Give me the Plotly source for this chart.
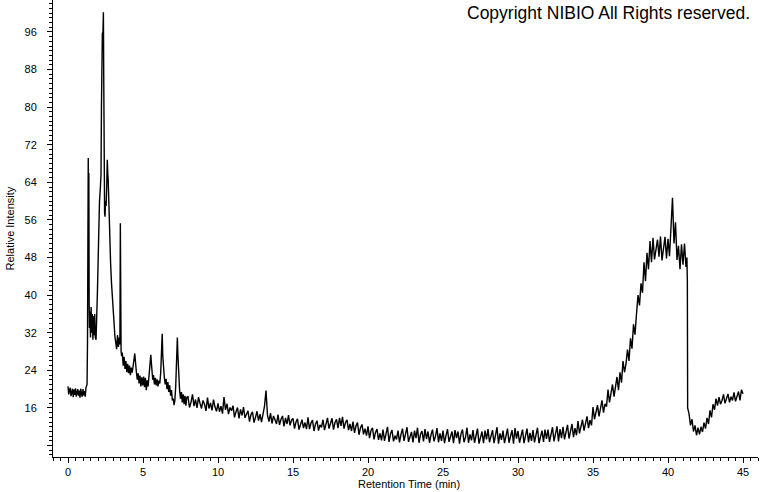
import numpy as np
import plotly.graph_objects as go

# ---------------- data ----------------
# 0 - 1.27 min : initial baseline
rt_start = [0.00, 0.05, 0.10, 0.15, 0.20, 0.25, 0.30, 0.35, 0.40, 0.45, 0.50, 0.55, 0.60,
            0.65, 0.70, 0.75, 0.80, 0.85, 0.90, 0.95, 1.00, 1.05, 1.10, 1.15, 1.20, 1.27]
int_start = [20.6, 18.9, 19.8, 20.3, 18.5, 19.4, 20.1, 18.3, 19.9, 18.8, 20.2, 18.4, 19.5,
             20.0, 18.6, 19.7, 18.2, 20.1, 19.0, 18.4, 20.0, 18.7, 19.6, 18.4, 20.4, 21.0]

# 1.30 - 3.58 min : main peak cluster
rt_peaks = [1.30, 1.33, 1.35, 1.37, 1.39, 1.41, 1.43, 1.46, 1.50, 1.54,
            1.58, 1.62, 1.66, 1.70, 1.74, 1.78, 1.82, 1.87, 1.96, 2.04,
            2.10, 2.16, 2.20, 2.23, 2.26, 2.29, 2.33, 2.36, 2.38, 2.40,
            2.42, 2.44, 2.47, 2.50, 2.54, 2.58, 2.62, 2.65, 2.68, 2.71,
            2.76, 2.80, 2.84, 2.90, 2.96, 3.02, 3.08, 3.13, 3.18, 3.24,
            3.30, 3.36, 3.42, 3.46, 3.49, 3.51, 3.54, 3.58]
int_peaks = [30.0, 45.0, 69.2, 50.0, 66.0, 38.0, 33.0, 36.5, 31.0, 37.5,
             32.0, 36.0, 30.5, 35.5, 31.5, 36.0, 31.0, 30.5, 40.5, 53.0,
             60.0, 63.0, 65.5, 80.0, 93.0, 95.7, 96.0, 100.2, 87.7, 71.5,
             64.0, 57.5, 56.7, 60.0, 59.0, 63.0, 68.8, 66.0, 64.5, 60.0,
             56.7, 51.7, 46.8, 42.6, 39.0, 36.2, 33.5, 31.1, 30.0, 28.5,
             31.5, 29.0, 31.0, 29.5, 55.3, 30.0, 28.0, 27.0]

# 3.62 - 7.92 min : tail with small peaks
rt_tail = [3.62, 3.68, 3.74, 3.80, 3.86, 3.92, 3.98, 4.04, 4.10, 4.16,
           4.22, 4.28, 4.34, 4.40, 4.45, 4.50, 4.56, 4.62, 4.68, 4.74,
           4.80, 4.86, 4.92, 4.98, 5.04, 5.10, 5.16, 5.22, 5.28, 5.34,
           5.40, 5.46, 5.52, 5.56, 5.60, 5.65, 5.70, 5.76, 5.82, 5.88,
           5.94, 6.00, 6.06, 6.12, 6.18, 6.23, 6.28, 6.32, 6.36, 6.42,
           6.48, 6.54, 6.60, 6.66, 6.72, 6.78, 6.84, 6.90, 6.96, 7.02,
           7.07, 7.12, 7.18, 7.24, 7.29, 7.33, 7.38, 7.44, 7.50, 7.56,
           7.62, 7.68, 7.74, 7.80, 7.86, 7.92]
int_tail = [27.8, 25.0, 26.9, 24.3, 26.0, 23.6, 25.4, 23.4, 25.0, 23.0,
            24.6, 23.5, 25.6, 26.3, 27.6, 24.8, 23.6, 22.0, 23.4, 21.2,
            22.9, 20.6, 22.5, 20.8, 22.7, 20.4, 22.4, 19.8, 21.9, 20.6,
            22.4, 24.0, 27.3, 25.5, 23.6, 22.0, 23.0, 21.0, 22.4, 20.8,
            22.1, 20.6, 21.8, 21.2, 23.5, 28.0, 31.8, 27.0, 24.0, 22.6,
            21.0, 22.2, 20.0, 21.5, 19.4, 20.8, 18.6, 19.8, 17.6, 18.0,
            16.6, 17.5, 20.5, 26.0, 31.0, 27.0, 21.0, 19.8, 18.0, 19.4,
            17.2, 18.9, 16.8, 18.6, 16.5, 18.3]

# 8.0 - 33.9 min, sampled every 0.1 min : long baseline
baseline_start, baseline_step = 8.0, 0.1
int_baseline = [
    18.4, 16.1, 17.2, 18.9, 16.4, 17.8, 16.0, 18.3, 17.0, 15.9,   # 8
    17.6, 16.8, 15.4, 18.2, 15.9, 17.1, 15.5, 17.8, 16.2, 15.3,   # 9
    17.0, 15.2, 16.4, 14.8, 18.3, 15.6, 16.9, 14.7, 16.1, 15.4,   # 10
    16.5, 14.0, 15.2, 16.1, 13.8, 15.7, 14.4, 16.2, 13.9, 14.8,   # 11
    15.4, 13.1, 14.6, 15.2, 12.9, 14.0, 15.3, 13.3, 14.7, 13.0,   # 12
    14.8, 16.4, 19.7, 14.4, 13.1, 14.9, 12.7, 14.3, 13.5, 12.6,   # 13
    14.6, 12.4, 13.6, 14.3, 12.1, 13.9, 12.6, 14.5, 12.3, 13.4,   # 14
    13.8, 11.6, 13.0, 13.7, 11.4, 12.8, 13.5, 11.7, 12.9, 11.5,   # 15
    14.0, 11.5, 12.8, 13.4, 11.1, 12.6, 13.3, 11.2, 12.4, 11.9,   # 16
    13.5, 11.3, 12.7, 13.9, 11.6, 12.5, 13.8, 11.4, 12.9, 13.6,   # 17
    11.7, 13.9, 12.2, 14.1, 11.6, 12.9, 13.5, 11.3, 12.6, 11.1,   # 18
    13.1, 10.7, 12.2, 12.9, 10.3, 11.8, 12.5, 10.4, 11.6, 10.1,   # 19
    12.1, 9.6, 11.2, 11.8, 9.3, 10.8, 11.5, 9.2, 10.6, 9.1,       # 20
    11.4, 9.0, 10.2, 12.0, 8.8, 10.5, 11.3, 8.9, 10.1, 9.3,       # 21
    11.2, 8.7, 10.4, 11.6, 9.0, 10.2, 11.9, 8.8, 9.8, 10.9,       # 22
    8.7, 11.2, 9.6, 11.8, 8.6, 10.4, 11.1, 8.9, 11.5, 9.4,        # 23
    11.0, 8.6, 10.3, 11.4, 8.9, 10.0, 11.7, 8.7, 10.6, 9.0,       # 24
    11.2, 8.5, 10.1, 11.5, 8.8, 9.9, 11.0, 8.5, 11.3, 9.6,        # 25
    11.0, 8.4, 10.5, 11.4, 8.7, 9.8, 11.8, 8.6, 10.4, 9.1,        # 26
    11.3, 8.6, 10.2, 11.6, 8.4, 9.7, 11.0, 8.5, 11.2, 9.3,        # 27
    11.5, 8.7, 10.0, 11.3, 8.5, 10.3, 11.9, 8.4, 10.6, 9.2,       # 28
    11.2, 8.5, 10.4, 11.6, 8.6, 9.9, 11.3, 8.4, 11.7, 9.5,        # 29
    11.1, 8.6, 10.2, 11.4, 8.5, 10.1, 11.6, 8.7, 10.7, 9.0,       # 30
    11.3, 8.7, 10.3, 11.8, 8.5, 9.9, 11.2, 8.8, 11.4, 9.4,        # 31
    11.4, 8.8, 10.6, 11.9, 8.9, 10.2, 12.1, 8.9, 11.5, 9.6,       # 32
    12.0, 9.3, 11.0, 12.4, 9.5, 10.9, 12.6, 9.8, 11.7, 10.2,      # 33
]

# 34.0 - 41.2 min, sampled every 0.1 min : gradient hump
gradient_start, gradient_step = 34.0, 0.1
int_gradient = [
    13.2, 10.6, 12.4, 13.5, 11.2, 12.6, 14.2, 11.7, 13.4, 12.3,   # 34
    16.2, 13.6, 15.1, 16.6, 14.2, 15.8, 17.6, 15.0, 16.9, 16.3,   # 35
    19.9, 17.2, 19.0, 21.0, 18.4, 20.7, 22.6, 19.8, 23.6, 21.4,   # 36
    26.0, 23.6, 25.4, 28.4, 26.0, 30.8, 28.6, 33.8, 31.6, 36.0,   # 37
    40.0, 37.8, 42.5, 40.5, 47.0, 43.0, 49.0, 45.5, 51.5, 47.0,   # 38
    52.2, 47.6, 50.4, 51.8, 48.2, 52.5, 47.4, 50.6, 52.4, 47.8,   # 39
    52.0, 48.3, 53.5, 60.7, 51.0, 55.5, 47.5, 50.5, 45.5, 50.8,   # 40
    46.5, 51.0, 46.0,                                             # 41
]

# sharp drop at ~41.3 min
rt_drop = [41.26, 41.29, 41.31]
int_drop = [48.0, 43.0, 16.0]

# 41.4 - 45.0 min, sampled every 0.1 min : recovery
recovery_start, recovery_step = 41.4, 0.1
int_recovery = [
    14.8, 12.3, 13.6, 11.0, 12.3, 10.2, 11.8, 10.4, 12.0, 10.9,
    12.9, 11.6, 13.9, 12.6, 15.5, 14.0, 16.8, 15.6, 18.0, 16.5,
    18.3, 16.8, 17.6, 18.9, 17.0, 18.1, 19.0, 17.2, 18.4, 17.6,
    19.3, 17.4, 18.6, 19.5, 17.6, 19.9, 19.0,
]

y_tick_vals = [8, 16, 24, 32, 40, 48, 56, 64, 72, 80, 88, 96]
y_tick_text = ["", "16", "24", "32", "40", "48", "56", "64", "72", "80", "88", "96"]
x_tick_vals = [0, 5, 10, 15, 20, 25, 30, 35, 40, 45]


def grid(start, step, n):
    return list(np.round(start + step * np.arange(n), 2))


rt_all = (rt_start + rt_peaks + rt_tail
          + grid(baseline_start, baseline_step, len(int_baseline))
          + grid(gradient_start, gradient_step, len(int_gradient))
          + rt_drop
          + grid(recovery_start, recovery_step, len(int_recovery)))
int_all = (int_start + int_peaks + int_tail + int_baseline
           + int_gradient + int_drop + int_recovery)

# ---------------- figure ----------------
FONT = "Arial, Liberation Sans, Helvetica, sans-serif"

fig = go.Figure()
fig.add_trace(go.Scatter(
    x=rt_all, y=int_all, mode="lines",
    line=dict(color="black", width=1.4),
    hoverinfo="skip", showlegend=False,
))

fig.update_layout(
    template="none",
    width=760, height=492,
    margin=dict(l=53, r=2, t=0, b=35, autoexpand=False),
    paper_bgcolor="white", plot_bgcolor="white",
    font=dict(family=FONT, size=11, color="black"),
    showlegend=False,
    hovermode=False,
)

fig.update_xaxes(
    automargin=False,
    range=[-1.0, 46.0],
    showgrid=False, zeroline=False,
    showline=True, linecolor="black", linewidth=1,
    ticks="outside", ticklen=5, tickwidth=1, tickcolor="black",
    tickmode="array", tickvals=x_tick_vals,
    tickfont=dict(family=FONT, size=11, color="black"),
    minor=dict(dtick=0.5, tick0=0, ticks="outside", ticklen=3,
               tickcolor="black", tickwidth=1, showgrid=False),
)
fig.update_yaxes(
    automargin=False,
    range=[5.57, 102.8],
    showgrid=False, zeroline=False,
    showline=True, linecolor="black", linewidth=1,
    ticks="outside", ticklen=5, tickwidth=1, tickcolor="black",
    tickmode="array", tickvals=y_tick_vals, ticktext=y_tick_text,
    ticklabelstandoff=8,
    tickfont=dict(family=FONT, size=11, color="black"),
    minor=dict(dtick=1, tick0=0, ticks="outside", ticklen=3,
               tickcolor="black", tickwidth=1, showgrid=False),
)

fig.add_annotation(
    text="Retention Time (min)", xref="paper", yref="paper",
    x=0.505, y=-0.059, xanchor="center", yanchor="middle",
    showarrow=False, font=dict(family=FONT, size=11, color="black"),
)
fig.add_annotation(
    text="Relative Intensity", xref="paper", yref="paper",
    x=-0.061, y=0.5, xanchor="center", yanchor="middle", textangle=-90,
    showarrow=False, font=dict(family=FONT, size=11, color="black"),
)
fig.add_annotation(
    text="Copyright NIBIO All Rights reserved.", xref="paper", yref="paper",
    x=0.9915, y=0.9716, xanchor="right", yanchor="middle",
    showarrow=False, font=dict(family=FONT, size=17.5, color="black"),
)

# remove the browser's default 8px body margin so the figure sits at (0, 0)
fig.write_html(
    "out.html",
    config={"displayModeBar": False, "staticPlot": True},
    post_script="document.body.style.margin='0';document.body.style.padding='0';",
)
